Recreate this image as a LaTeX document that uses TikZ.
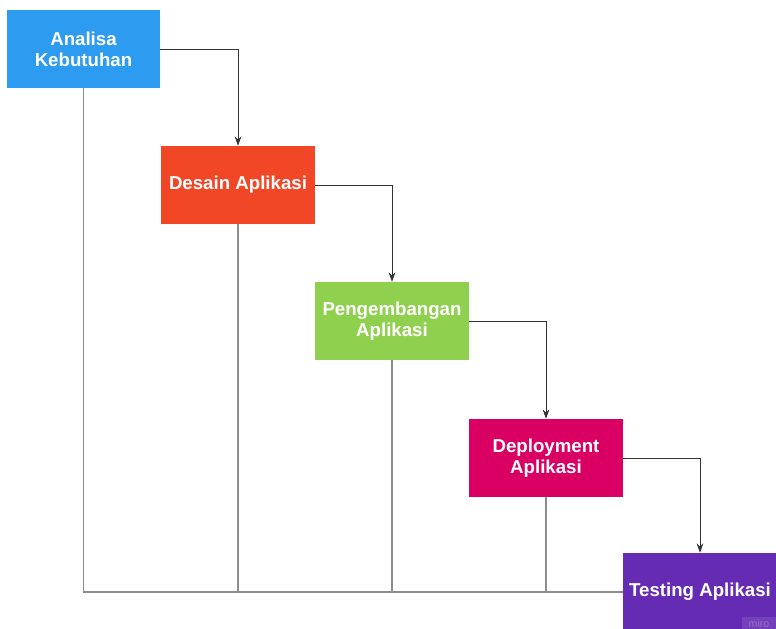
\documentclass[tikz,border=0pt]{standalone}
\usepackage{fontspec}
\setmainfont{Liberation Sans}
\usetikzlibrary{arrows.meta}
\definecolor{cblue}{HTML}{2D9BF0}
\definecolor{cred}{HTML}{F24726}
\definecolor{cgreen}{HTML}{8FD14F}
\definecolor{cmagenta}{HTML}{DA0063}
\definecolor{cpurple}{HTML}{652CB3}
\tikzset{
  stage/.style={rectangle, minimum width=115pt, minimum height=58.5pt, inner sep=0pt, text=white, align=center, font=\fontsize{14}{16}\selectfont\bfseries},
  flow/.style={draw=black!80, line width=0.6pt, -{Stealth[length=7pt,width=5pt]}},
  back/.style={draw=black!45, line width=0.8pt}
}
\begin{document}
\begin{tikzpicture}[x=0.75pt, y=-0.75pt]
\useasboundingbox (0,0) rectangle (776,629);
\node[stage, fill=cblue] (analisa) at (83.5,49){Analisa\\Kebutuhan};
\node[stage, fill=cred] (desain) at (238,185){Desain Aplikasi};
\node[stage, fill=cgreen] (pengembangan) at (392,321){Pengembangan\\Aplikasi};
\node[stage, fill=cmagenta] (deployment) at (546,458){Deployment\\Aplikasi};
\node[stage, fill=cpurple] (testing) at (700,592){Testing Aplikasi};
\node[fill=white, fill opacity=0.1, text opacity=0.25, text=white, font=\fontsize{8}{8}\selectfont, inner sep=1.5pt, minimum width=26pt, minimum height=10pt] (miro) at (759,624){miro};
\draw[back](analisa) |- (testing);
\draw[back](desain) |- (testing);
\draw[back](pengembangan) |- (testing);
\draw[back](deployment) |- (testing);
\draw[flow](analisa) -| (desain);
\draw[flow](desain) -| (pengembangan);
\draw[flow](pengembangan) -| (deployment);
\draw[flow](deployment) -| (testing);
\end{tikzpicture}
\end{document}
